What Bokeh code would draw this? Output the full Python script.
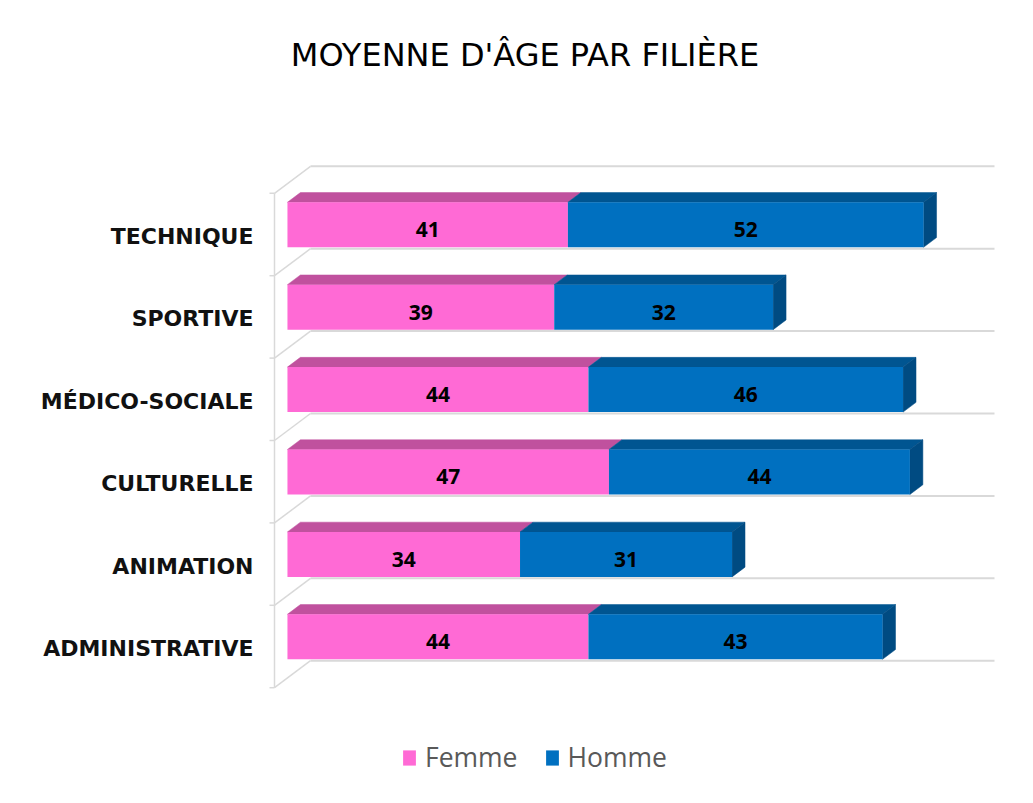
from bokeh.plotting import figure
from bokeh.models import ColumnDataSource, Range1d, Legend, LegendItem
from bokeh.core.properties import value
from bokeh.embed import file_html
from bokeh.resources import INLINE

# ---------------- data ----------------
categories = ["ADMINISTRATIVE", "ANIMATION", "CULTURELLE", "MÉDICO-SOCIALE", "SPORTIVE", "TECHNIQUE"]
femme = [44, 34, 47, 44, 39, 41]
homme = [43, 31, 44, 46, 32, 52]
series_names = ["Femme", "Homme"]
title_text = "MOYENNE D'ÂGE PAR FILIÈRE"
axis_max = 100

# ---------------- styling / geometry ----------------
W, H = 1033, 795
FRAME_LEFT = 16
FRAME_TOP = 80
PX_X = 6.84        # px per value unit
PX_Y = 82.4        # px per category
X0_PAGE = 274      # page x of value 0 (front plane)
Y0_PAGE = 646      # page y of first category centre (front plane)

DX = 36 / PX_X     # oblique depth shift (full depth)
DY = 27 / PX_Y
D1, D2 = 0.36, 0.72  # bar front / back depth
BAR_H = 45 / PX_Y

FRONT = ["#FF6AD5", "#0070C0"]
TOP = ["#C0519E", "#005591"]
SIDE = ["#A8468A", "#004B82"]
GRID = "#D9D9D9"

x_start = (FRAME_LEFT - X0_PAGE) / PX_X
x_end = (W - X0_PAGE) / PX_X
y_top = (Y0_PAGE - FRAME_TOP) / PX_Y
y_bot = (Y0_PAGE - H) / PX_Y

p = figure(width=W, height=H, output_backend="svg", toolbar_location=None,
           x_range=Range1d(x_start, x_end), y_range=Range1d(y_bot, y_top),
           min_border_left=FRAME_LEFT, min_border_right=0, min_border_bottom=0,
           min_border_top=FRAME_TOP)
p.axis.visible = False
p.grid.visible = False
p.outline_line_color = None
p.background_fill_color = "white"
p.border_fill_color = "white"

p.title.text = title_text
p.title.align = "center"
p.title.text_font = "DejaVu Sans"
p.title.text_font_size = "32px"
p.title.text_font_style = "normal"
p.title.text_color = "#000000"
p.title.standoff = 14


def proj(x, y, d):
    return x + d * DX, y + d * DY


n = len(categories)
bounds = [i - 0.5 for i in range(n + 1)]

# back wall gridlines
gx, gy = [], []
for b in bounds:
    a0 = proj(0, b, 1)
    a1 = proj(axis_max, b, 1)
    gx.append([a0[0], a1[0]])
    gy.append([a0[1], a1[1]])
p.multi_line(gx, gy, line_color=GRID, line_width=2)

# left wall diagonals
dxs, dys = [], []
for b in bounds:
    a0 = proj(0, b, 0)
    a1 = proj(0, b, 1)
    dxs.append([a0[0], a1[0]])
    dys.append([a0[1], a1[1]])
p.multi_line(dxs, dys, line_color=GRID, line_width=1.5)

# front vertical axis + ticks
p.line([0, 0], [bounds[0], bounds[-1]], line_color=GRID, line_width=1.5)
p.segment(x0=[-5 / PX_X] * len(bounds), y0=bounds, x1=[0] * len(bounds), y1=bounds,
          line_color=GRID, line_width=1.5)

# bars
cum = [0] * n
renderers = []
for k, vals in enumerate([femme, homme]):
    left = list(cum)
    right = [c + v for c, v in zip(cum, vals)]
    cum = right
    ys = list(range(n))
    # top faces
    txs, tys = [], []
    for i in range(n):
        yt = ys[i] + BAR_H / 2
        txs.append([left[i] + D1 * DX, right[i] + D1 * DX, right[i] + D2 * DX, left[i] + D2 * DX])
        tys.append([yt + D1 * DY, yt + D1 * DY, yt + D2 * DY, yt + D2 * DY])
    p.patches(txs, tys, fill_color=TOP[k], line_color=TOP[k], line_width=0.5)
    # side faces for last series
    if k == 1:
        sxs, sys_ = [], []
        for i in range(n):
            yt = ys[i] + BAR_H / 2
            yb = ys[i] - BAR_H / 2
            r = right[i]
            sxs.append([r + D1 * DX, r + D1 * DX, r + D2 * DX, r + D2 * DX])
            sys_.append([yb + D1 * DY, yt + D1 * DY, yt + D2 * DY, yb + D2 * DY])
        p.patches(sxs, sys_, fill_color=SIDE[k], line_color=SIDE[k], line_width=0.5)
    src = ColumnDataSource(dict(
        y=[y + D1 * DY for y in ys],
        left=[l + D1 * DX for l in left],
        right=[r + D1 * DX for r in right],
        xm=[(l + r) / 2 + D1 * DX for l, r in zip(left, right)],
        yl=[y + D1 * DY - 0.06 for y in ys],
        lab=[str(v) for v in vals],
    ))
    r_bar = p.hbar(y="y", left="left", right="right", height=BAR_H, source=src,
                   fill_color=FRONT[k], line_color=None)
    renderers.append(r_bar)
    p.text(x="xm", y="yl", text="lab", source=src, text_align="center",
           text_baseline="alphabetic", text_font=value("Open Sans"),
           text_font_style="bold", text_font_size="21px", text_color="#000000")

# category labels
cat_src = ColumnDataSource(dict(
    x=[-21 / PX_X] * n,
    y=[i - 0.025 for i in range(n)],
    t=categories,
))
p.text(x="x", y="y", text="t", source=cat_src, text_align="right",
       text_baseline="alphabetic", text_font=value("DejaVu Sans"),
       text_font_style="bold", text_font_size="22px", text_color="#111111")

legend = Legend(items=[LegendItem(label=series_names[0], renderers=[renderers[0]]),
                       LegendItem(label=series_names[1], renderers=[renderers[1]])],
                orientation="horizontal", location=(401 - FRAME_LEFT, 20),
                padding=0, margin=0, spacing=26, label_standoff=8,
                glyph_width=16, glyph_height=19,
                label_text_font="Open Sans", label_text_font_size="26.5px",
                label_text_color="#595959",
                border_line_color=None, background_fill_alpha=0)
p.add_layout(legend, "center")

open("out.html", "w").write(file_html(p, INLINE))
